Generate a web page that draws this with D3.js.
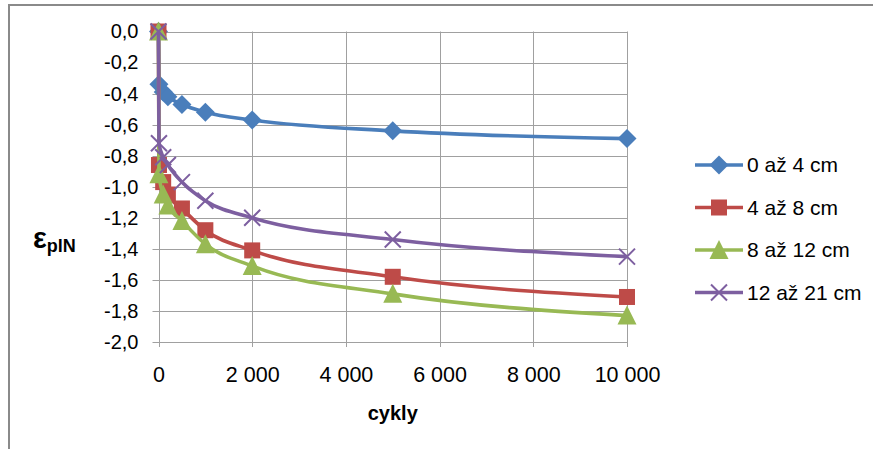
<!DOCTYPE html>
<html>
<head>
<meta charset="utf-8">
<script src="https://cdn.jsdelivr.net/npm/d3@7"></script>
<style>
  html, body { margin: 0; padding: 0; background: #fff; }
  svg { display: block; font-family: "Liberation Sans", Arial, sans-serif; }
</style>
</head>
<body>
<svg id="chart" width="873" height="449"></svg>
<script>
// cycles (x) shared by all series
const cycles = [0, 10, 100, 200, 500, 1000, 2000, 5000, 10000];

const s0to4   = [0, -0.34, -0.39, -0.42, -0.47, -0.52, -0.57, -0.64, -0.69];
const s4to8   = [0, -0.86, -0.97, -1.05, -1.14, -1.28, -1.41, -1.58, -1.71];
const s8to12  = [0, -0.92, -1.05, -1.12, -1.22, -1.37, -1.51, -1.69, -1.83];
const s12to21 = [0, -0.72, -0.81, -0.86, -0.97, -1.09, -1.20, -1.34, -1.45];

const seriesNames = ["0 až 4 cm", "4 až 8 cm", "8 až 12 cm", "12 až 21 cm"];
const seriesValues = [s0to4, s4to8, s8to12, s12to21];
const seriesColors = ["#4a7ebb", "#be4b48", "#98b954", "#7d5fa0"];
const seriesMarkers = ["diamond", "square", "triangle", "cross"];

const xTicks = [0, 2000, 4000, 6000, 8000, 10000];
const yTicks = [0, -0.2, -0.4, -0.6, -0.8, -1.0, -1.2, -1.4, -1.6, -1.8, -2.0];

const svg = d3.select("#chart");

const locale = d3.formatLocale({ decimal: ",", thousands: "\u00a0", grouping: [3], currency: ["", ""], minus: "-" });
const fmtX = locale.format(",d");
const fmtY = locale.format(".1f");

const x = d3.scaleLinear().domain([0, 10000]).range([158.5, 627]);
const y = d3.scaleLinear().domain([-2, 0]).range([342, 31.5]);

// chart area border (runs off the picture to the right and bottom)
svg.append("rect")
  .attr("x", 9).attr("y", 5)
  .attr("width", 1000).attr("height", 1000)
  .attr("fill", "none")
  .attr("stroke", "#8a8a8a")
  .attr("stroke-width", 2);

// gridlines
const grid = svg.append("g").attr("stroke", "#a0a0a0").attr("stroke-width", 1);
grid.selectAll("line.h")
  .data(yTicks)
  .enter().append("line")
  .attr("x1", x(0) - 6).attr("x2", x(10000))
  .attr("y1", d => Math.round(y(d)) + 0.5)
  .attr("y2", d => Math.round(y(d)) + 0.5);
grid.selectAll("line.v")
  .data(xTicks)
  .enter().append("line")
  .attr("x1", d => Math.round(x(d)) + 0.5)
  .attr("x2", d => Math.round(x(d)) + 0.5)
  .attr("y1", y(0)).attr("y2", y(-2) + 5);

// tick labels via axes
const yAxis = svg.append("g")
  .attr("transform", `translate(${x(0)},0)`)
  .call(d3.axisLeft(y).tickValues(yTicks).tickFormat(fmtY).tickSize(0).tickPadding(20));
const xAxis = svg.append("g")
  .attr("transform", `translate(0,${y(-2)})`)
  .call(d3.axisBottom(x).tickValues(xTicks).tickFormat(fmtX).tickSize(0).tickPadding(25));
yAxis.selectAll("text").attr("font-size", 20);
xAxis.selectAll("text").attr("font-size", 21.5);
[yAxis, xAxis].forEach(a => {
  a.select(".domain").remove();
  a.selectAll("text")
    .attr("fill", "#000")
    .attr("font-family", "Liberation Sans, Arial, sans-serif");
});

// axis titles
svg.append("text")
  .attr("x", x(5000)).attr("y", 420)
  .attr("text-anchor", "middle")
  .attr("font-size", 20).attr("font-weight", "bold")
  .text("cykly");

const yTitle = svg.append("text")
  .attr("x", 33).attr("y", 248)
  .attr("font-weight", "bold");
yTitle.append("tspan").attr("font-size", 29).text("ε");
yTitle.append("tspan").attr("font-size", 18).attr("dy", 4).text("plN");

// series
const line = d3.line()
  .x(d => x(d[0]))
  .y(d => y(d[1]))
  .curve(d3.curveMonotoneX);

function drawMarker(g, type, color, size) {
  const h = size / 2;
  if (type === "diamond") {
    g.append("path").attr("d", `M0,${-h - 1.5}L${h + 1.5},0L0,${h + 1.5}L${-h - 1.5},0Z`).attr("fill", color);
  } else if (type === "square") {
    g.append("rect").attr("x", -h).attr("y", -h).attr("width", size).attr("height", size).attr("fill", color);
  } else if (type === "triangle") {
    g.append("path").attr("d", `M0,${-h - 2}L${h + 1.5},${h + 1}L${-h - 1.5},${h + 1}Z`).attr("fill", color);
  } else {
    g.append("path").attr("d", `M${-h},${-h}L${h},${h}M${-h},${h}L${h},${-h}`)
      .attr("stroke", color).attr("stroke-width", 2).attr("fill", "none");
  }
}

seriesValues.forEach((vals, i) => {
  const pts = cycles.map((c, k) => [c, vals[k]]);
  const g = svg.append("g");
  g.append("path")
    .datum(pts)
    .attr("d", line)
    .attr("fill", "none")
    .attr("stroke", seriesColors[i])
    .attr("stroke-width", 3.6)
    .attr("stroke-linejoin", "round");
  pts.forEach(p => {
    const m = g.append("g").attr("transform", `translate(${x(p[0])},${y(p[1])})`);
    drawMarker(m, seriesMarkers[i], seriesColors[i], 16);
  });
});

// legend
const legend = svg.append("g");
seriesNames.forEach((name, i) => {
  const ly = 165 + i * 42.5;
  const row = legend.append("g");
  row.append("line")
    .attr("x1", 695).attr("x2", 743)
    .attr("y1", ly).attr("y2", ly)
    .attr("stroke", seriesColors[i]).attr("stroke-width", 3.6);
  const m = row.append("g").attr("transform", `translate(719,${ly})`);
  drawMarker(m, seriesMarkers[i], seriesColors[i], 16);
  row.append("text")
    .attr("x", 747).attr("y", ly)
    .attr("dy", "0.35em")
    .attr("font-size", 21)
    .text(name);
});
</script>
</body>
</html>
